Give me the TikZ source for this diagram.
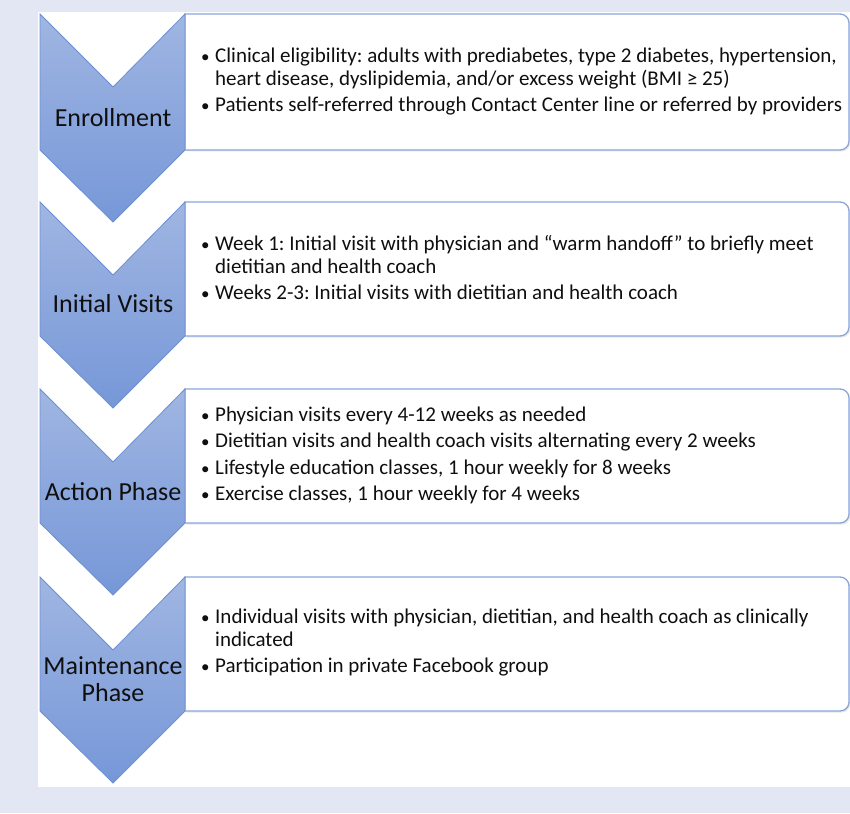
\documentclass[tikz,border=0pt]{standalone}
\usepackage{fontspec}
\setmainfont{Carlito}
\usetikzlibrary{shadows}
\frenchspacing
\definecolor{pagebg}{RGB}{227,230,243}
\definecolor{chevtop}{RGB}{160,182,226}
\definecolor{chevbot}{RGB}{118,151,216}
\definecolor{chevline}{RGB}{108,143,210}
\definecolor{boxline}{RGB}{138,166,222}
\definecolor{ink}{RGB}{15,15,15}
\tikzset{
  chevron/.style={draw=chevline, line width=0.8pt, top color=chevtop, bottom color=chevbot, line join=miter},
  stepbox/.style={draw=boxline, line width=1.3pt, fill=white,
    drop shadow={shadow xshift=1.5pt, shadow yshift=-1.5pt, opacity=0.18}},
  phaselabel/.style={font=\fontsize{26}{28}\selectfont, align=center, text=ink, inner sep=0pt},
  bullets/.style={font=\fontsize{21}{23}\selectfont, anchor=base west, inner sep=0pt, text=ink},
}
% #1 top edge, #2 bottom edge of the detail box (y grows downwards)
\newcommand\phasestep[2]{%
  \draw[stepbox] (185,#2) -- (185,#1) [rounded corners=9pt] -- (849,#1) -- (849,#2) [sharp corners] -- cycle;
  \draw[chevron] (40,#1) -- (113,#1+73) -- (185,#1) -- (185,#2) -- (113,#2+72) -- (40,#2) -- cycle;
}
\newcommand\bul{\makebox[14pt][l]{\fontsize{17}{17}\selectfont •}}
\newcommand\hang{\hspace{14pt}}
\begin{document}
\begin{tikzpicture}[x=1pt,y=-1pt]
  \useasboundingbox (0,0) rectangle (850,813);
  \fill[pagebg] (0,0) rectangle (850,813);
  \fill[white] (38,12) rectangle (850,787);

  \phasestep{14}{150}
  \phasestep{202}{336}
  \phasestep{389}{523}
  \phasestep{577}{711}

  \node[phaselabel] (enroll) at (113,118) {Enrollment};
  \node[phaselabel] (initial) at (113,304) {Initial Visits};
  \node[phaselabel] (action) at (113,492) {Action Phase};
  \node[phaselabel, font=\fontsize{26}{27}\selectfont] (maint) at (113,679) {Maintenance\\Phase};

  \node[bullets] (enrolltxt) at (201,63) {\begin{tabular}[t]{@{}l@{}}
    \bul Clinical eligibility: adults with prediabetes, type 2 diabetes, hypertension,\\
    \hang heart disease, dyslipidemia, and/or excess weight (BMI ≥ 25)\\[3pt]
    \bul Patients self-referred through Contact Center line or referred by providers
  \end{tabular}};

  \node[bullets] (initialtxt) at (201,250) {\begin{tabular}[t]{@{}l@{}}
    \bul Week 1: Initial visit with physician and “warm handoff” to briefly meet\\
    \hang dietitian and health coach\\[3pt]
    \bul Weeks 2-3: Initial visits with dietitian and health coach
  \end{tabular}};

  \node[bullets] (actiontxt) at (201,421) {\begin{tabular}[t]{@{}l@{}}
    \bul Physician visits every 4-12 weeks as needed\\[3.5pt]
    \bul Dietitian visits and health coach visits alternating every 2 weeks\\[3.5pt]
    \bul Lifestyle education classes, 1 hour weekly for 8 weeks\\[3.5pt]
    \bul Exercise classes, 1 hour weekly for 4 weeks
  \end{tabular}};

  \node[bullets] (mainttxt) at (201,623) {\begin{tabular}[t]{@{}l@{}}
    \bul Individual visits with physician, dietitian, and health coach as clinically\\
    \hang indicated\\[3pt]
    \bul Participation in private Facebook group
  \end{tabular}};
\end{tikzpicture}
\end{document}
